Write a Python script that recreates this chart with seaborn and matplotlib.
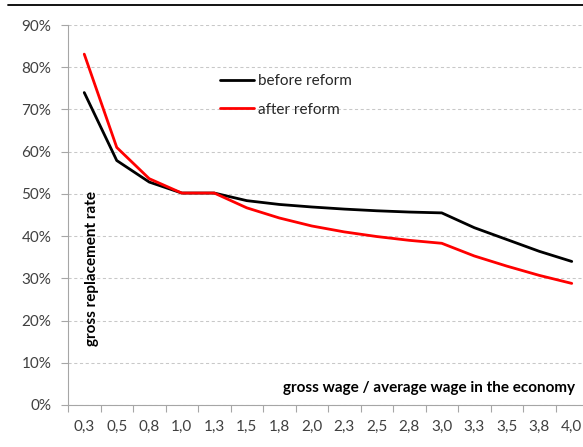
import matplotlib
matplotlib.use("Agg")
import matplotlib.pyplot as plt
from matplotlib.ticker import FixedLocator, PercentFormatter
import numpy as np
import pandas as pd
import seaborn as sns

# Gross wage relative to the economy-wide average wage
wage_ratio = ["0,3", "0,5", "0,8", "1,0", "1,3", "1,5", "1,8", "2,0",
              "2,3", "2,5", "2,8", "3,0", "3,3", "3,5", "3,8", "4,0"]

# Gross replacement rate (%)
before_reform = [74.0, 57.9, 52.8, 50.2, 50.2, 48.4, 47.5, 46.9,
                 46.4, 46.0, 45.7, 45.5, 42.0, 39.2, 36.4, 34.0]
after_reform = [83.1, 61.0, 53.6, 50.2, 50.2, 46.7, 44.3, 42.4,
                41.0, 39.9, 39.0, 38.3, 35.3, 32.9, 30.7, 28.8]

series_names = ["before reform", "after reform"]
series_colors = ["#000000", "#FF0000"]

df = pd.DataFrame({
    "wage": wage_ratio * 2,
    "rate": np.array(before_reform + after_reform) / 100.0,
    "scenario": [series_names[0]] * len(wage_ratio) + [series_names[1]] * len(wage_ratio),
})

sns.set_theme(style="white")
plt.rcParams["font.family"] = ["Lato", "DejaVu Sans"]

W, H = 583, 447
fig = plt.figure(figsize=(W / 100, H / 100), dpi=100)
fig.patch.set_facecolor("white")

# plot area in pixel terms
left, right, top, bottom = 68, 588, 25, 405
ax = fig.add_axes([left / W, (H - bottom) / H, (right - left) / W, (bottom - top) / H])

sns.lineplot(data=df, x="wage", y="rate", hue="scenario", palette=series_colors,
             hue_order=series_names, linewidth=2.0, sort=False, ax=ax, legend=False)

ax.set_xlim(-0.5, len(wage_ratio) - 0.5)
ax.set_ylim(0, 0.9)
ax.yaxis.set_major_locator(FixedLocator(np.arange(0, 0.91, 0.1)))
ax.yaxis.set_major_formatter(PercentFormatter(1.0, decimals=0))

# category labels at centres, tick marks at boundaries
ax.xaxis.set_minor_locator(FixedLocator(np.arange(-0.5, len(wage_ratio), 1.0)))
ax.tick_params(axis="x", which="major", length=0, pad=11, labelsize=11, labelcolor="#404040")
ax.tick_params(axis="x", which="minor", length=5, width=0.8, color="#A6A6A6", bottom=True)
ax.tick_params(axis="y", which="major", length=5, width=0.8, color="#A6A6A6", left=True,
               pad=7, labelsize=11, labelcolor="#404040")

ax.grid(axis="y", color="#C8C8C8", linestyle=(0, (3, 2.5)), linewidth=0.75)
ax.grid(axis="x", visible=False)
ax.set_axisbelow(True)
for side in ("top", "right"):
    ax.spines[side].set_visible(False)
for side in ("left", "bottom"):
    ax.spines[side].set_color("#A6A6A6")
    ax.spines[side].set_linewidth(0.8)

ax.set_xlabel("")
ax.set_ylabel("")

# axis titles placed inside the plotting area
fig.text(92 / W, (H - 268) / H, "gross replacement rate", rotation=90,
         ha="center", va="center", fontsize=11, fontweight="bold", color="#000000")
fig.text(575 / W, (H - 388) / H, "gross wage / average wage in the economy",
         ha="right", va="center", fontsize=11, fontweight="bold", color="#000000")

# legend
handles = [plt.Line2D([], [], color=c, linewidth=2.0) for c in series_colors]
fig.legend(handles, series_names, loc="upper left",
           bbox_to_anchor=(220 / W, (H - 74) / H), bbox_transform=fig.transFigure,
           frameon=False, fontsize=11, handlelength=2.2, handletextpad=0.3,
           labelspacing=0.95, borderpad=0, borderaxespad=0)

# title rule and caption line running off the top edge
fig.add_artist(plt.Line2D([8 / W, 1.0], [(H - 5) / H, (H - 5) / H],
                          transform=fig.transFigure, color="black", linewidth=1.3))
fig.text(20 / W, 1.0 + 3.0 / H, "(assuming full contributing periods)",
         ha="left", va="baseline", fontsize=14, fontweight="bold", color="#00A0E3")

fig.savefig("out.png", dpi=100, facecolor="white")
